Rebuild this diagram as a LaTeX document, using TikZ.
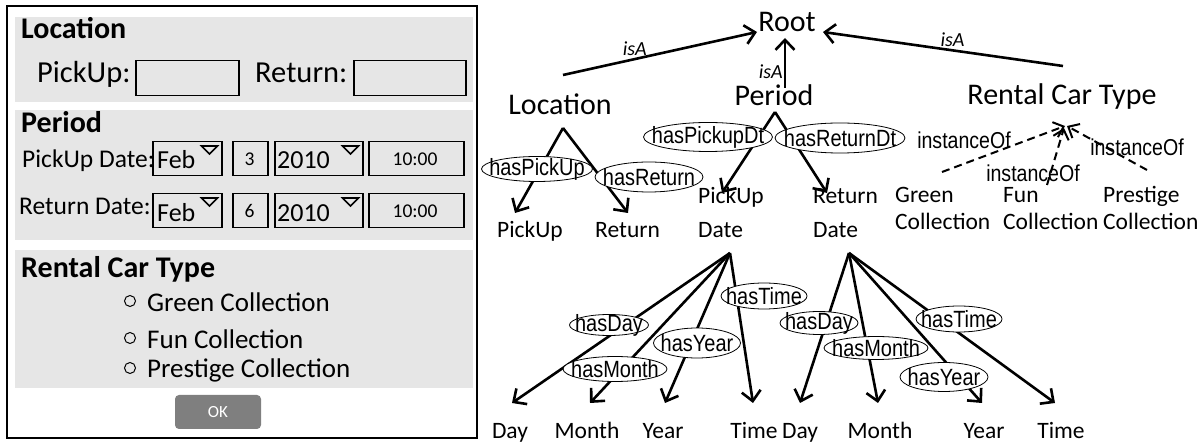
\documentclass[tikz,border=0pt]{standalone}
\usepackage{fontspec}
\setmainfont{Carlito}
\newfontfamily\narrowsans[FakeStretch=0.85]{Liberation Sans}
\usetikzlibrary{arrows.meta,shapes.geometric,calc}
\definecolor{panelgray}{RGB}{230,230,230}
\definecolor{okgray}{RGB}{127,127,127}

\tikzset{
  formhead/.style={font=\bfseries\fontsize{30bp}{34bp}\selectfont, inner sep=0, anchor=base west},
  formlabel/.style={font=\fontsize{30.5bp}{34bp}\selectfont, inner sep=0, anchor=base west},
  rowlabel/.style={font=\fontsize{25.5bp}{30bp}\selectfont, inner sep=0, anchor=base west},
  fieldtext/.style={font=\fontsize{26bp}{30bp}\selectfont, inner sep=0, anchor=base west},
  smalltext/.style={font=\fontsize{19.5bp}{22bp}\selectfont, inner sep=0, anchor=base},
  optiontext/.style={font=\fontsize{27bp}{32bp}\selectfont, inner sep=0, anchor=base west},
  field/.style={draw, line width=1.5bp, inner sep=0, anchor=north west},
  ddtri/.style={draw, line width=1.6bp, line join=miter},
  radio/.style={draw, line width=1bp},
  okbtn/.style={fill=okgray, rounded corners=4bp, text=white, inner sep=0,
    font=\fontsize{17bp}{20bp}\selectfont},
  big/.style={font=\fontsize{30bp}{34bp}\selectfont, inner sep=0, anchor=base},
  leaf/.style={font=\fontsize{23.5bp}{27bp}\selectfont, inner sep=0, anchor=base},
  leafl/.style={font=\fontsize{23.5bp}{#1}\selectfont, inner sep=0, anchor=base west, align=left},
  isa/.style={font=\itshape\fontsize{20bp}{24bp}\selectfont, inner sep=2bp},
  insttext/.style={font=\narrowsans\fontsize{23bp}{27bp}\selectfont, inner sep=0},
  reltext/.style={font=\narrowsans\fontsize{23.5bp}{27bp}\selectfont, inner sep=0},
  rel/.style n args={3}{ellipse, draw, fill=white, line width=0.8bp, inner sep=0,
    minimum width=#1bp, minimum height=#2bp, label={[reltext]center:#3}},
  arr/.style={line width=2.6bp, -{Straight Barb[length=10bp,width=19bp]}},
  instarr/.style={line width=2bp, dash pattern=on 8bp off 5bp,
    -{Straight Barb[length=9bp,width=16bp]}},
}

\begin{document}
\begin{tikzpicture}[x=1bp,y=-1bp]
\useasboundingbox (0,0) rectangle (1203,443);

% ---------------- booking form ----------------
\draw[line width=2bp] (7,6) rectangle (477,438);
\fill[panelgray] (15,17) rectangle (473,102);
\fill[panelgray] (15,110) rectangle (473,240);
\fill[panelgray] (15,250) rectangle (473,388);

% location
\node[formhead] (fLoc) at (21,39) {Location};
\node[formlabel] (fPick) at (37,83) {PickUp:};
\node[field, minimum width=103bp, minimum height=35bp] (fPickBox) at (135,60) {};
\node[formlabel] (fRet) at (255,83) {Return:};
\node[field, minimum width=112bp, minimum height=35bp] (fRetBox) at (353,60) {};

% period
\node[formhead] (fPer) at (21,133) {Period};
\node[rowlabel] (fPickDate) at (22,168) {PickUp Date:};
\node[rowlabel] (fRetDate) at (19,215) {Return Date:};

\node[field, minimum width=69bp, minimum height=34bp] (fMon1) at (152,141) {};
\node[field, minimum width=35bp, minimum height=34bp] (fDay1) at (232,141) {};
\node[field, minimum width=88bp, minimum height=34bp] (fYr1) at (274,141) {};
\node[field, minimum width=95bp, minimum height=34bp] (fTm1) at (368,141) {};
\node[field, minimum width=69bp, minimum height=34bp] (fMon2) at (152,193) {};
\node[field, minimum width=35bp, minimum height=34bp] (fDay2) at (232,193) {};
\node[field, minimum width=88bp, minimum height=34bp] (fYr2) at (274,193) {};
\node[field, minimum width=95bp, minimum height=34bp] (fTm2) at (368,193) {};

\node[fieldtext] (tMon1) at (157,169) {Feb};
\node[fieldtext] (tYr1) at (277,169) {2010};
\node[smalltext] (tDay1) at (249.5,166) {3};
\node[smalltext] (tTm1) at (415,166) {10:00};
\node[fieldtext] (tMon2) at (157,222) {Feb};
\node[fieldtext] (tYr2) at (277,222) {2010};
\node[smalltext] (tDay2) at (249.5,218) {6};
\node[smalltext] (tTm2) at (415,218) {10:00};

\foreach \b in {fMon1,fYr1,fMon2,fYr2}
  \draw[ddtri] ($(\b.north east)+(-21,5)$) -- ++(16,0) -- ++(-8,8) -- cycle;

% rental car type
\node[formhead] (fRct) at (21,278) {Rental Car Type};
\draw[radio] (130,301) circle[radius=5.5bp];
\draw[radio] (130,338) circle[radius=5.5bp];
\draw[radio] (130,368) circle[radius=5.5bp];
\node[optiontext] (oGreen) at (147,312) {Green Collection};
\node[optiontext] (oFun) at (147,349) {Fun Collection};
\node[optiontext] (oPrest) at (147,378) {Prestige Collection};

\node[okbtn, minimum width=86bp, minimum height=34bp] (ok) at (218,412) {OK};

% ---------------- ontology ----------------
\node[big] (root) at (787,32) {Root};
\node[big] (loc) at (560,115) {Location};
\node[big] (per) at (774,106) {Period};
\node[big] (rct) at (1062,105) {Rental Car Type};

% multi-line leaves are placed by the baseline of their last line
\node[leafl=27bp] (lPick) at (497,238) {PickUp};
\node[leafl=27bp] (lRet) at (595,238) {Return};
\node[leafl=34bp] (lPickDt) at (698,238) {PickUp\\Date};
\node[leafl=34bp] (lRetDt) at (813,238) {Return\\Date};
\node[leafl=27bp] (cGreen) at (895,230) {Green\\Collection};
\node[leafl=27bp] (cFun) at (1003,230) {Fun\\Collection};
\node[leafl=27bp] (cPrest) at (1103,230) {Prestige\\Collection};

\node[leaf] (pDay) at (510,439) {Day};
\node[leaf] (pMonth) at (587,439) {Month};
\node[leaf] (pYear) at (663,439) {Year};
\node[leaf] (pTime) at (754,439) {Time};
\node[leaf] (rDay) at (800,439) {Day};
\node[leaf] (rMonth) at (880,439) {Month};
\node[leaf] (rYear) at (984,439) {Year};
\node[leaf] (rTime) at (1061,439) {Time};

% connector end points
\coordinate (rootL) at (757,32);
\coordinate (rootB) at (785,38);
\coordinate (rootR) at (823,32);
\coordinate (locUp) at (563,75);
\coordinate (perUp) at (785,88);
\coordinate (rctUp) at (1063,66);
\coordinate (locFork) at (563,128);
\coordinate (perFork) at (775,112);
\coordinate (rctIn) at (1065,126);
\coordinate (pdFork) at (730,253);
\coordinate (rdFork) at (849,253);
\coordinate (lPickIn) at (515,213);
\coordinate (lRetIn) at (628,213);
\coordinate (lPickDtIn) at (722,193);
\coordinate (lRetDtIn) at (827,193);
\coordinate (cGreenOut) at (942,172);
\coordinate (cFunOut) at (1047,185);
\coordinate (cPrestOut) at (1147,170);
\coordinate (pDayIn) at (512,403);
\coordinate (pMonthIn) at (590,403);
\coordinate (pYearIn) at (665,403);
\coordinate (pTimeIn) at (753,403);
\coordinate (rDayIn) at (800,403);
\coordinate (rMonthIn) at (878,403);
\coordinate (rYearIn) at (982,403);
\coordinate (rTimeIn) at (1055,403);

% isA links
\draw[arr] (locUp) -- node[isa, pos=0.37, above] {isA} (rootL);
\draw[arr] (perUp) -- node[isa, pos=0.32, left, inner sep=1bp] {isA} (rootB);
\draw[arr] (rctUp) -- node[isa, pos=0.46, above] {isA} (rootR);

% properties
\draw[arr] (locFork) -- (lPickIn);
\draw[arr] (locFork) -- (lRetIn);
\draw[arr] (perFork) -- (lPickDtIn);
\draw[arr] (perFork) -- (lRetDtIn);
\foreach \t in {pDayIn,pMonthIn,pYearIn,pTimeIn}
  \draw[arr] (pdFork) -- (\t);
\foreach \t in {rDayIn,rMonthIn,rYearIn,rTimeIn}
  \draw[arr] (rdFork) -- (\t);

% instances
\draw[instarr] (cGreenOut) -- (rctIn);
\draw[instarr] (cFunOut) -- ($(rctIn)+(-1,2)$);
\draw[instarr] (cPrestOut) -- ($(rctIn)+(2,0)$);
\node[insttext] (iGreen) at (964,140) {instanceOf};
\node[insttext] (iFun) at (1033,173) {instanceOf};
\node[insttext] (iPrest) at (1137,147) {instanceOf};

% property labels
\node[rel={111}{25}{hasPickUp}] (eLocPick) at (537,169) {};
\node[rel={108}{30}{hasReturn}] (eLocRet) at (649,177) {};
\node[rel={129}{29}{hasPickupDt}] (ePerPick) at (708,137) {};
\node[rel={130}{30}{hasReturnDt}] (ePerRet) at (840,138) {};

\node[rel={79}{21}{hasDay}] (epDay) at (609,325) {};
\node[rel={104}{25}{hasMonth}] (epMonth) at (615,369) {};
\node[rel={87}{30}{hasYear}] (epYear) at (697,343) {};
\node[rel={86}{26}{hasTime}] (epTime) at (764,296) {};

\node[rel={78}{23}{hasDay}] (erDay) at (819,323) {};
\node[rel={104}{23}{hasMonth}] (erMonth) at (876,348) {};
\node[rel={88}{29}{hasYear}] (erYear) at (944,377) {};
\node[rel={86}{26}{hasTime}] (erTime) at (959,319) {};
\end{tikzpicture}
\end{document}
